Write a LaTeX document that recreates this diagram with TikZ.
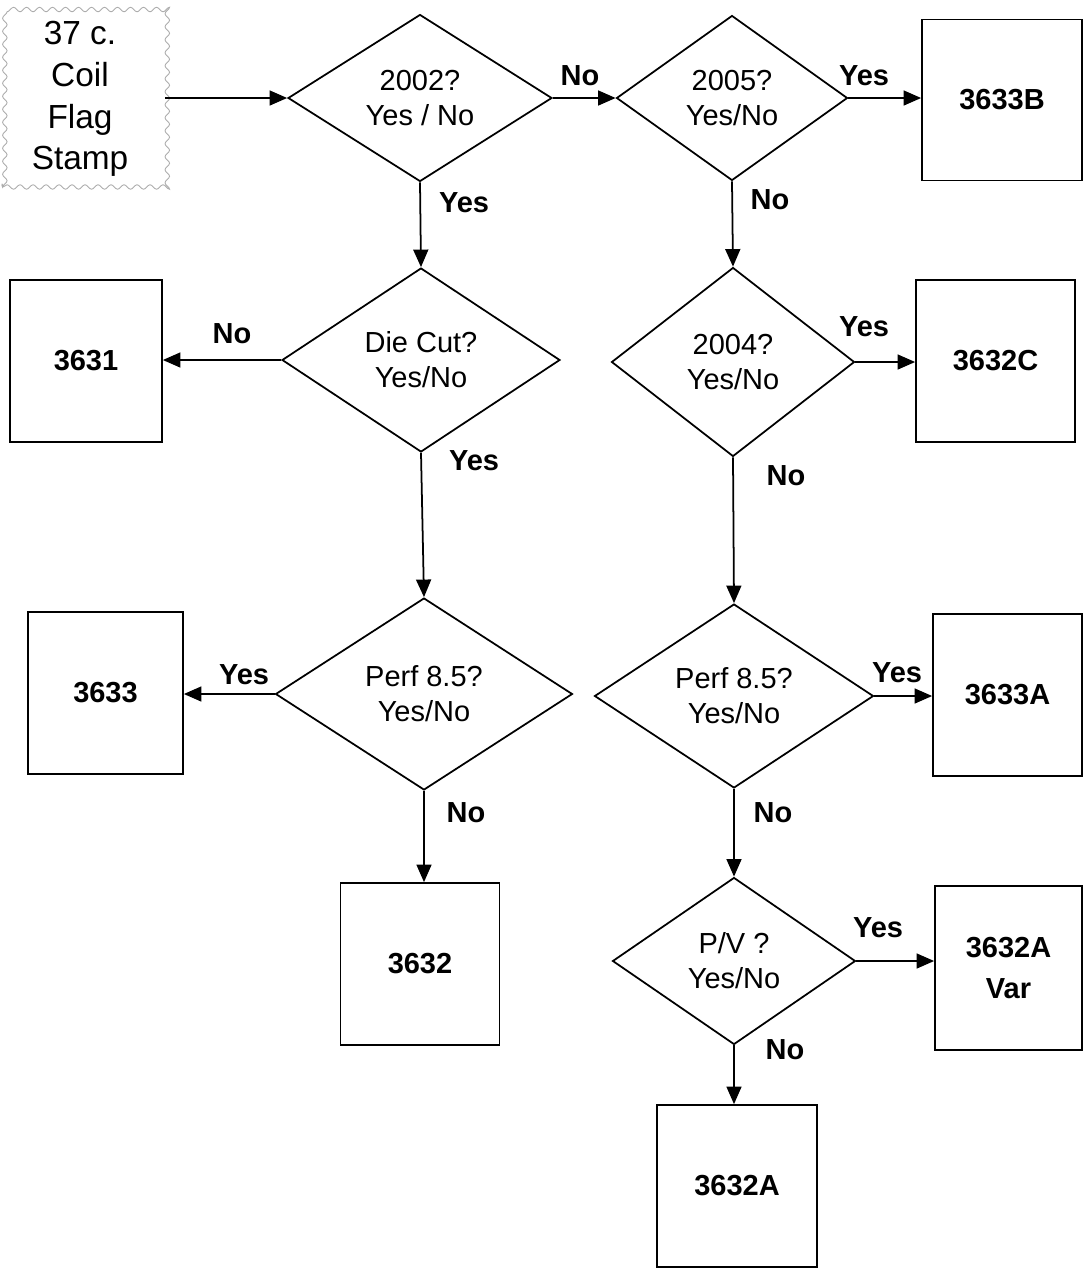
\documentclass[tikz,border=0pt]{standalone}
\usepackage{fontspec}
\setmainfont{Liberation Sans}
\usetikzlibrary{shapes.geometric,arrows.meta,decorations.pathmorphing}
\newcommand\dtext{\fontsize{16.5}{20}\selectfont}
\newcommand\stext{\fontsize{19}{23.8}\selectfont}
\tikzset{
  dec/.style={draw, shape=diamond, inner sep=0pt, align=center, font=\dtext, line width=1pt},
  outbox/.style={draw, rectangle, inner sep=0pt, align=center, font=\dtext\bfseries, line width=1pt},
  lab/.style={font=\dtext\bfseries, inner sep=0pt},
  arr/.style={line width=1pt, -{Triangle[length=10pt,width=8.5pt]}},
  stampbox/.style={draw=gray!65, line width=0.5pt, decorate,
    decoration={snake, amplitude=0.045cm, segment length=0.26cm},
    align=center, font=\stext, inner sep=0pt}
}
\begin{document}
\begin{tikzpicture}[x=0.02cm, y=-0.02cm]
\useasboundingbox (0,0) rectangle (1083,1269);
% stamp
\node[stampbox, minimum width=3.24cm, minimum height=3.68cm] (stamp) at (84,95) {};
\node[font=\stext, align=center, inner sep=0pt] (stamptext) at (80,99) {37 c.\\Coil\\Flag\\Stamp};
% decisions
\node[dec, minimum width=5.28cm, minimum height=3.34cm] (d1) at (420,98) {2002?\\Yes / No};
\node[dec, minimum width=4.62cm, minimum height=3.30cm] (d2) at (732,98) {2005?\\Yes/No};
\node[dec, minimum width=5.56cm, minimum height=3.68cm] (d4) at (421,360) {Die Cut?\\Yes/No};
\node[dec, minimum width=4.86cm, minimum height=3.78cm] (d3) at (733,362) {2004?\\Yes/No};
\node[dec, minimum width=5.94cm, minimum height=3.84cm] (d5) at (424,694) {Perf 8.5?\\Yes/No};
\node[dec, minimum width=5.58cm, minimum height=3.68cm] (d6) at (734,696) {Perf 8.5?\\Yes/No};
\node[dec, minimum width=4.86cm, minimum height=3.34cm] (d7) at (734,961) {P/V ?\\Yes/No};
% outcome boxes
\node[outbox, minimum width=3.20cm, minimum height=3.22cm] (b3633B) at (1002,100) {3633B};
\node[outbox, minimum width=3.04cm, minimum height=3.24cm] (b3631) at (86,361) {3631};
\node[outbox, minimum width=3.18cm, minimum height=3.24cm] (b3632C) at (995.5,361) {3632C};
\node[outbox, minimum width=3.10cm, minimum height=3.24cm] (b3633) at (105.5,693) {3633};
\node[outbox, minimum width=2.98cm, minimum height=3.24cm] (b3633A) at (1007.5,695) {3633A};
\node[outbox, minimum width=3.18cm, minimum height=3.24cm] (b3632) at (420,964) {3632};
\node[outbox, minimum width=2.94cm, minimum height=3.28cm] (b3632AV) at (1008.5,968) {3632A\\[3pt]Var};
\node[outbox, minimum width=3.20cm, minimum height=3.24cm] (b3632A) at (737,1186) {3632A};
% connectors
\draw[arr] (stamp.east |- d1.west) -- (d1.west);
\draw[arr] (d1.east) -- (d2.west);
\draw[arr] (d2.east) -- (b3633B.west |- d2.east);
\draw[arr] (d1.south) -- (d4.north);
\draw[arr] (d2.south) -- (d3.north);
\draw[arr] (d4.west) -- (b3631.east |- d4.west);
\draw[arr] (d3.east) -- (b3632C.west |- d3.east);
\draw[arr] (d4.south) -- (d5.north);
\draw[arr] (d3.south) -- (d6.north);
\draw[arr] (d5.west) -- (b3633.east |- d5.west);
\draw[arr] (d6.east) -- (b3633A.west |- d6.east);
\draw[arr] (d5.south) -- (d5.south |- b3632.north);
\draw[arr] (d6.south) -- (d7.north);
\draw[arr] (d7.east) -- (b3632AV.west |- d7.east);
\draw[arr] (d7.south) -- (d7.south |- b3632A.north);
% labels
\node[lab] (l1) at (580,76) {No};
\node[lab] (l2) at (864,76) {Yes};
\node[lab] (l3) at (464,203) {Yes};
\node[lab] (l4) at (770,200) {No};
\node[lab] (l5) at (232,334) {No};
\node[lab] (l6) at (864,327) {Yes};
\node[lab] (l7) at (474,461) {Yes};
\node[lab] (l8) at (786,476) {No};
\node[lab] (l9) at (244,675) {Yes};
\node[lab] (l10) at (897,673) {Yes};
\node[lab] (l11) at (466,813) {No};
\node[lab] (l12) at (773,813) {No};
\node[lab] (l13) at (878,928) {Yes};
\node[lab] (l14) at (785,1050) {No};
\end{tikzpicture}
\end{document}
